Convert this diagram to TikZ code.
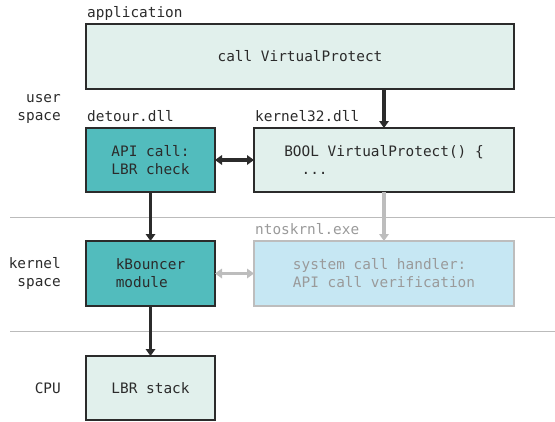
\documentclass[tikz,border=0pt]{standalone}
\usepackage{fontspec}
\setmainfont{DejaVu Sans Mono}
\usetikzlibrary{arrows.meta}
\definecolor{lightfill}{HTML}{E1F0EC}
\definecolor{tealfill}{HTML}{52BCBD}
\definecolor{bluefill}{HTML}{C6E7F3}
\definecolor{darkline}{HTML}{2B2B2B}
\definecolor{grayline}{HTML}{BDBDBD}
\definecolor{graytext}{HTML}{9A9A9A}
\definecolor{sepline}{HTML}{BBBBBB}
\tikzset{
  box/.style={draw=darkline, line width=1.4pt, rectangle, anchor=north west, inner sep=0pt, outer sep=0pt, align=left, text=darkline},
  lightbox/.style={box, fill=lightfill},
  tealbox/.style={box, fill=tealfill},
  graybox/.style={box, draw=grayline, fill=bluefill, text=graytext},
  lbl/.style={anchor=base west, inner sep=0pt, text=darkline},
  graylbl/.style={lbl, text=graytext},
  side/.style={anchor=east, align=right, inner sep=0pt, text=darkline},
  arr/.style={draw=darkline, line width=3.3pt, -{Triangle[length=7pt,width=9.5pt]}},
  dblarr/.style={draw=darkline, line width=3.3pt, {Triangle[length=7pt,width=9.5pt]}-{Triangle[length=7pt,width=9.5pt]}},
  grayarr/.style={arr, draw=grayline, -{Triangle[length=7pt,width=9.5pt,fill=grayline]}},
  graydbl/.style={draw=grayline, line width=3.3pt, {Triangle[length=7pt,width=9.5pt]}-{Triangle[length=7pt,width=9.5pt]}},
  sep/.style={draw=sepline, line width=1pt}
}
\begin{document}
\begin{tikzpicture}[x=1pt,y=-1pt, font=\fontsize{14.4}{18}\selectfont]
\useasboundingbox (0,0) rectangle (555,421);
% separators
\coordinate (s1a) at (10,217);
\coordinate (s1b) at (555,217);
\coordinate (s2a) at (10,331);
\coordinate (s2b) at (555,331);
\draw[sep] (s1a) -- (s1b);
\draw[sep] (s2a) -- (s2b);
% boxes
\node[lightbox, minimum width=428pt, minimum height=65pt] (app) at (86,24) {call VirtualProtect};
\node[tealbox, minimum width=129pt, minimum height=64pt] (detour) at (86,128) {API call:\\LBR check};
\node[lightbox, minimum width=260pt, minimum height=64pt] (k32) at (254,128) {BOOL VirtualProtect() \{\\\ \ ...\phantom{\ \ \ \ \ \ \ \ \ \ \ \ \ \ \ \ \ \ }};
\node[tealbox, minimum width=129pt, minimum height=65pt] (kb) at (86,241) {kBouncer\\module\ };
\node[graybox, minimum width=260pt, minimum height=65pt] (nt) at (254,241) {system call handler:\\API call verification};
\node[lightbox, minimum width=129pt, minimum height=64pt] (lbr) at (86,356) {LBR stack};
% labels
\node[lbl] (lapp) at (87,17.5) {application};
\node[lbl] (ldet) at (87,121) {detour.dll};
\node[lbl] (lk32) at (255,121) {kernel32.dll};
\node[graylbl] (lnt) at (255,234) {ntoskrnl.exe};
\node[side] (us) at (61,109) {user\\space};
\node[side] (ks) at (61,273) {kernel\\space};
\node[side] (cpu) at (61,388) {CPU};
% connectors
\draw[arr] (app.south -| k32.center) -- (k32.north);
\draw[dblarr] (detour.east) -- (k32.west);
\draw[arr] (detour.south) -- (kb.north);
\draw[arr] (kb.south) -- (lbr.north);
\draw[grayarr] (k32.south) -- (nt.north);
\draw[graydbl] (kb.east) -- (nt.west);
\end{tikzpicture}
\end{document}
